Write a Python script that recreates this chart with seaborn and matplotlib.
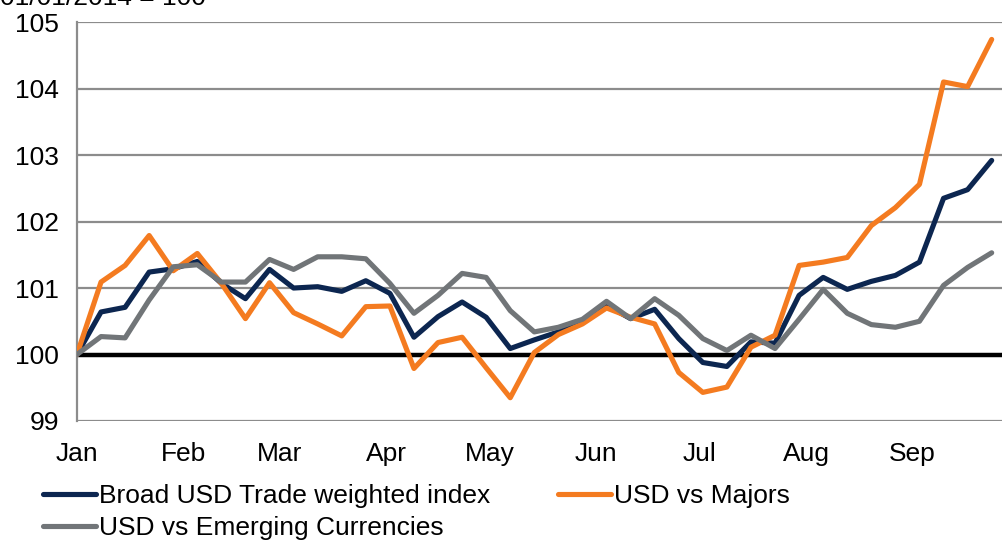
import pandas as pd
import matplotlib
matplotlib.use("Agg")
import matplotlib.pyplot as plt
import matplotlib.dates as mdates
import seaborn as sns

sns.set_style("white")
plt.rcParams['font.family'] = ['Liberation Sans', 'DejaVu Sans']
plt.rcParams['text.color'] = 'black'

# weekly observations, 01/01/2014 = 100
dates = pd.date_range("2014-01-01", periods=39, freq="7D")

broad = [100.0, 100.64, 100.71, 101.24, 101.29, 101.40, 101.07, 100.84, 101.28, 101.00,
         101.02, 100.95, 101.11, 100.92, 100.26, 100.57, 100.79, 100.56, 100.09, 100.22,
         100.34, 100.49, 100.74, 100.54, 100.68, 100.24, 99.88, 99.82, 100.19, 100.17,
         100.89, 101.16, 100.98, 101.10, 101.19, 101.39, 102.35, 102.48, 102.92]
majors = [100.0, 101.09, 101.34, 101.79, 101.26, 101.52, 101.07, 100.54, 101.08, 100.63,
          100.46, 100.28, 100.72, 100.73, 99.79, 100.18, 100.26, 99.80, 99.35, 100.03,
          100.30, 100.46, 100.70, 100.56, 100.46, 99.73, 99.43, 99.51, 100.11, 100.29,
          101.34, 101.39, 101.46, 101.94, 102.21, 102.56, 104.10, 104.03, 104.74]
emerging = [100.0, 100.27, 100.25, 100.82, 101.32, 101.35, 101.09, 101.09, 101.43, 101.28,
            101.47, 101.47, 101.44, 101.07, 100.62, 100.89, 101.22, 101.16, 100.66, 100.34,
            100.41, 100.53, 100.80, 100.54, 100.84, 100.59, 100.24, 100.06, 100.29, 100.09,
            100.53, 100.98, 100.62, 100.45, 100.41, 100.50, 101.04, 101.31, 101.53]

series_names = ["Broad USD Trade weighted index", "USD vs Majors", "USD vs Emerging Currencies"]
colors = ["#0C2650", "#F47B20", "#717578"]

df = pd.DataFrame({"date": dates, series_names[0]: broad,
                   series_names[1]: majors, series_names[2]: emerging})
long = df.melt(id_vars="date", var_name="series", value_name="index")

fig = plt.figure(figsize=(10.02, 5.40), dpi=100)
ax = fig.add_axes([0.0768, 0.2204, 0.9232, 0.7386])

for y in range(99, 106):
    ax.axhline(y, color="#8C8C8C", lw=1.6, zorder=0)
ax.axhline(100, color="black", lw=3.2, zorder=1)

sns.lineplot(data=long, x="date", y="index", hue="series", hue_order=series_names,
             palette=colors, lw=3.7, ax=ax, legend=True, zorder=3)

ax.set_ylim(99, 105)
ax.set_xlim(pd.Timestamp("2014-01-01"), pd.Timestamp("2014-09-27"))
ax.set_yticks(range(99, 106))
ax.xaxis.set_major_locator(mdates.MonthLocator())
ax.xaxis.set_major_formatter(mdates.DateFormatter("%b"))
ax.set_xlabel("")
ax.set_ylabel("")
ax.tick_params(axis="both", labelsize=19, labelcolor="black", direction="out")
ax.tick_params(axis="x", length=6, width=1.2, color="#8C8C8C", pad=9)
ax.tick_params(axis="y", length=8, width=1.5, color="#8C8C8C", pad=5)

for s in ["top", "right", "bottom"]:
    ax.spines[s].set_visible(False)
ax.spines["left"].set_color("#8C8C8C")
ax.spines["left"].set_linewidth(1.6)

# legend fills column-first: reorder so rows read Broad, Majors / Emerging
handles, labels = ax.get_legend_handles_labels()
order = [0, 2, 1]
leg = ax.legend([handles[i] for i in order], [labels[i] for i in order],
                loc="upper left", bbox_to_anchor=(0.043, 0.103),
                bbox_transform=fig.transFigure, ncol=2, frameon=False, fontsize=19,
                handlelength=2.0, handletextpad=0.1, columnspacing=2.6,
                labelspacing=0.3, borderaxespad=0, borderpad=0)
for t in leg.get_texts():
    t.set_color("black")

fig.text(0.0, 1 - 5 / 540, "01/01/2014 = 100", fontsize=19, va="baseline", ha="left",
         color="black")

fig.savefig("out.png", dpi=100)
